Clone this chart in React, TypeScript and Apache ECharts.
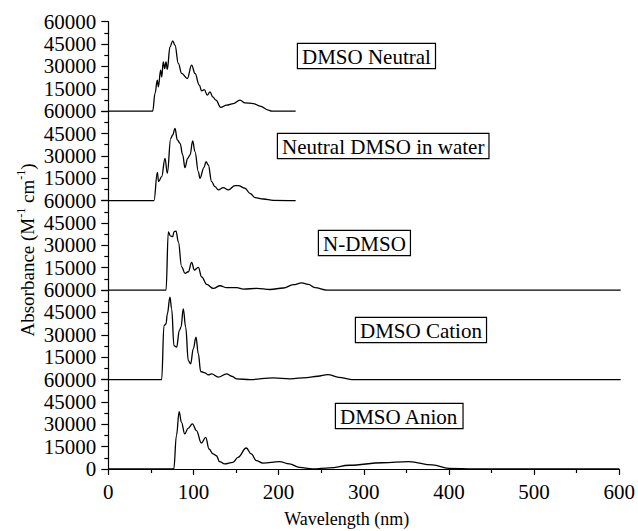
import React, { useEffect, useRef } from "react";
import * as echarts from "echarts";

// Wavelength (nm), absorbance (M^-1 cm^-1) pairs
const dmsoNeutral: number[][] = [
  [0, 0], [52, 0], [54.7, 11900], [57.4, 20800], [58.6, 16300], [61.3, 27500], [62.5, 23000],
  [64.4, 33100], [66, 28600], [67.6, 33100], [69.1, 28000], [72.2, 43100], [75.4, 47200],
  [78.1, 44300], [82, 32000], [85.9, 25300], [92.5, 21900], [97.6, 30900], [101.5, 25300],
  [106.6, 17400], [109.3, 13600], [112.4, 14500], [115.9, 10700], [119.1, 13000], [122.2, 9600],
  [126.1, 7400], [131.6, 2500], [138.6, 4000], [146.4, 5100], [154.2, 7400], [160, 5600],
  [169.8, 5100], [177.6, 3400], [187.4, 700], [191.3, 0], [219.4, 0],
];
const neutralInWater: number[][] = [
  [0, 0], [53.5, 0], [57.4, 19000], [58.9, 12700], [62.5, 16100], [66.4, 28400], [69.1, 18300],
  [73.1, 41800], [75.4, 44000], [78.1, 48500], [80.8, 40700], [84, 38400], [87.1, 30600],
  [89.8, 22100], [92.9, 28400], [95.7, 30600], [98.8, 40000], [101.5, 32900], [105.4, 19500],
  [107.3, 15000], [112, 22100], [114.4, 26200], [117.1, 23900], [121, 12700], [124.9, 9400],
  [128.8, 7200], [134.6, 8700], [140.5, 7200], [148.4, 10100], [152.3, 10100], [160, 8300],
  [165.9, 4900], [171.8, 2000], [181.5, 1100], [193.2, 200], [219.4, 0],
];
const nDmso: number[][] = [
  [0, 0], [67.6, 0], [70.3, 39100], [72.6, 36400], [75.4, 35800], [76.9, 39100], [79.3, 39600],
  [82, 32400], [85.9, 15600], [89.8, 11200], [93.7, 12300], [97.6, 18600], [100.7, 13400],
  [105.4, 15200], [109.3, 8900], [115.2, 3800], [123, 1100], [130.8, 2900], [138.6, 1600],
  [150.4, 1600], [158.2, 700], [173.8, 1100], [189.4, 400], [205, 1400], [216.6, 3600],
  [226.4, 4800], [234.2, 3800], [242, 1600], [255.7, 0], [600, 0],
];
const dmsoCation: number[][] = [
  [0, 0], [62.5, 0], [65.2, 36200], [67.6, 37300], [69.1, 44000], [72.2, 55200], [74.2, 47400],
  [76.9, 22800], [80, 21700], [83.2, 32900], [85.1, 35100], [87.8, 47400], [90.6, 35100],
  [93.7, 12700], [96.4, 10500], [99.5, 20600], [102.7, 28400], [105.4, 17200], [108.2, 5400],
  [113.2, 4500], [117.1, 3100], [121, 3800], [128.8, 1600], [138.6, 3800], [144.5, 2200],
  [150.4, 400], [166, 0], [193.2, 1100], [212.7, 500], [232.3, 1300], [245, 2200],
  [257, 3300], [270, 1500], [285, 0], [600, 0],
];
const dmsoAnion: number[][] = [
  [0, 0], [76.9, 0], [80, 22400], [83.2, 38400], [85.9, 31300], [89.8, 23500], [93.7, 27300],
  [98.8, 30200], [103.5, 25700], [109.3, 17400], [114.4, 21200], [118.3, 13400], [123, 10100],
  [126.9, 8900], [130.8, 4900], [136.6, 3400], [146.4, 4500], [152.3, 7800], [162, 14100],
  [167.9, 10100], [173.8, 5600], [181.6, 4000], [201, 5000], [212.7, 3400], [224.5, 1100],
  [240, 0], [260, 800], [283, 2500], [322, 4200], [353, 4900], [380.6, 2700], [400, 400],
  [430, 0], [600, 0],
];

const seriesList = [dmsoNeutral, neutralInWater, nDmso, dmsoCation, dmsoAnion];
const panelLabels = ["DMSO Neutral", "Neutral DMSO in water", "N-DMSO", "DMSO Cation", "DMSO Anion"];
const xTicks = [0, 100, 200, 300, 400, 500, 600];
const yTicks = [0, 15000, 30000, 45000, 60000];

const FONT = "'Liberation Serif', 'Times New Roman', serif";

export default function App() {
  const ref = useRef<HTMLDivElement>(null);
  useEffect(() => {
    if (!ref.current) return;
    const chart = echarts.init(ref.current, undefined, { renderer: "svg" });
    const gridLeft = 108.3;
    const gridWidth = 512.4;
    const firstTop = 21.7;
    const panelH = 89.46;
    const n = seriesList.length;

    const grids = seriesList.map((_, i) => ({
      left: gridLeft,
      width: gridWidth,
      top: firstTop + i * panelH,
      height: panelH,
      containLabel: false,
    }));

    const xAxes = seriesList.map((_, i) => {
      const isLast = i === n - 1;
      return {
        type: "value",
        gridIndex: i,
        min: xTicks[0],
        max: xTicks[xTicks.length - 1],
        interval: 100,
        show: isLast,
        axisLine: { show: true, lineStyle: { color: "#000", width: 1.2 } },
        axisTick: { show: true, length: 6, lineStyle: { color: "#000", width: 1.2 } },
        minorTick: { show: true, splitNumber: 2, length: 4, lineStyle: { color: "#000", width: 1.2 } },
        splitLine: { show: false },
        minorSplitLine: { show: false },
        axisLabel: { color: "#000", fontFamily: FONT, fontSize: 21, margin: 12 },
        name: isLast ? "Wavelength (nm)" : "",
        nameLocation: "middle",
        nameGap: 41,
        nameTextStyle: { color: "#000", fontFamily: FONT, fontSize: 18, padding: [0, 0, 0, -34] },
      };
    });

    const yAxes = seriesList.map((_, i) => {
      const isLast = i === n - 1;
      return {
        type: "value",
        gridIndex: i,
        min: yTicks[0],
        max: yTicks[yTicks.length - 1],
        interval: 15000,
        axisLine: { show: true, lineStyle: { color: "#000", width: 1.2 } },
        axisTick: { show: true, length: 7, lineStyle: { color: "#000", width: 1.2 } },
        minorTick: { show: true, splitNumber: 2, length: 4, lineStyle: { color: "#000", width: 1.2 } },
        splitLine: { show: false },
        minorSplitLine: { show: false },
        axisLabel: {
          color: "#000",
          fontFamily: FONT,
          fontSize: 21,
          margin: 12,
          formatter: (v: number) => (v === 0 && !isLast ? "" : String(v)),
        },
      };
    });

    const series = seriesList.map((data, i) => ({
      type: "line",
      xAxisIndex: i,
      yAxisIndex: i,
      data,
      showSymbol: false,
      smooth: 0.4,
      smoothMonotone: "x",
      lineStyle: { color: "#000", width: 1.3 },
      clip: false,
    }));

    const labelPos = [
      [298, 44],
      [278, 134],
      [319, 231],
      [356, 318],
      [336, 404],
    ];

    const graphic: any[] = panelLabels.map((t, i) => ({
      type: "text",
      x: labelPos[i][0],
      y: labelPos[i][1],
      style: {
        text: t,
        font: `21px ${FONT}`,
        fill: "#000",
        borderColor: "#000",
        borderWidth: 1.2,
        padding: [2, 4, 1, 4],
        backgroundColor: "#fff",
      },
    }));

    graphic.push({
      type: "text",
      x: 26,
      y: 250,
      rotation: Math.PI / 2,
      style: {
        text: "{a|Absorbance (M}{s|-1}{a| cm}{s|-1}{a|)}",
        align: "center",
        verticalAlign: "middle",
        fill: "#000",
        rich: {
          a: { fontFamily: FONT, fontSize: 19, fill: "#000", lineHeight: 22, verticalAlign: "bottom" },
          s: { fontFamily: FONT, fontSize: 12, fill: "#000", lineHeight: 22, verticalAlign: "top" },
        },
      },
    });

    chart.setOption({
      animation: false,
      backgroundColor: "#fff",
      grid: grids,
      xAxis: xAxes,
      yAxis: yAxes,
      series,
      graphic,
    });
    return () => chart.dispose();
  }, []);

  return (
    <div
      ref={ref}
      style={{ position: "fixed", left: 0, top: 0, width: 638, height: 531, background: "#fff" }}
    />
  );
}
